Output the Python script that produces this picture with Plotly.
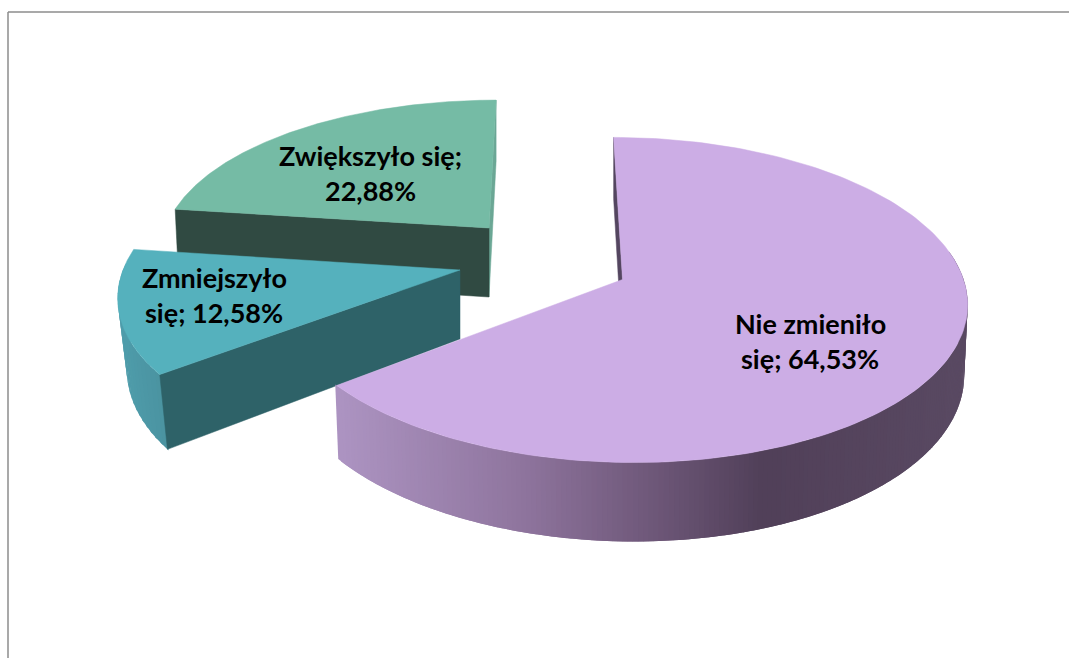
import numpy as np
import plotly.graph_objects as go

# --- data -------------------------------------------------------------
categories = ["Nie zmieniło się", "Zmniejszyło się", "Zwiększyło się"]
values = [64.53, 12.58, 22.88]
label_lines = [["Nie zmieniło", "się; 64,53%"],
               ["Zmniejszyło", "się; 12,58%"],
               ["Zwiększyło się;", "22,88%"]]

# --- style / layout ---------------------------------------------------
W, H = 1069, 658
top_colors = ["#CCADE5", "#55B1BD", "#75BBA5"]
cut_colors = ["#544660", "#2E6268", "#304A42"]
end_colors = ["#544660", "#2E6268", "#6BA795"]
# wall gradient stops by screen x
wall_stops = [
    [(337, "#AD94C2"), (520, "#8F759E"), (640, "#715A7C"), (760, "#514059"), (968, "#5A4A63")],
    [(117, "#4F9DAB"), (170, "#4A929F")],
    [(170, "#6BA795"), (175, "#6BA795")],
]
centers = [(622.5, 279.5), (460.0, 270.0), (489.0, 228.0)]
radii = [(341.0, 160.0), (337.0, 158.0), (323.0, 144.0)]
skews = [10.0, -17.0, -8.0]
converge = [0.05, 0.13, 0.05]
PERSP, DEPTH = 0.126, 69.0


def hex2rgb(h):
    return np.array([int(h[i:i + 2], 16) for i in (1, 3, 5)], float)


def grad(stops, x):
    xs = [s[0] for s in stops]
    cs = np.array([hex2rgb(s[1]) for s in stops])
    c = [np.interp(x, xs, cs[:, k]) for k in range(3)]
    return "rgb(%d,%d,%d)" % tuple(c)


def project(i, theta, rad=1.0, z=0.0):
    """theta in degrees clockwise from 12 o'clock; z = drop below the top face"""
    cx, cy = centers[i]
    R, T = radii[i]
    t = np.radians(theta)
    X, Y = rad * np.sin(t), -rad * np.cos(t)
    s = 1 / (1 - PERSP * Y)
    return cx + (R * X + skews[i] * Y - converge[i] * z * X) * s, cy + (T * Y + z) * s


fig = go.Figure()


def poly(xs, ys, color, lw=0.0):
    fig.add_trace(go.Scatter(x=list(xs), y=list(ys), mode="lines", fill="toself",
                             fillcolor=color, line=dict(color=color, width=lw),
                             hoverinfo="skip", showlegend=False))


def face(i, theta, color):
    a = project(i, theta, 0.0, 0.0)
    b = project(i, theta, 1.0, 0.0)
    c = project(i, theta, 1.0, DEPTH)
    d = project(i, theta, 0.0, DEPTH)
    poly([a[0], b[0], c[0], d[0], a[0]], [a[1], b[1], c[1], d[1], a[1]], color, 0.5)


def wall(i, t0, t1, n):
    edges = np.linspace(t0, t1, n + 1)
    for a, b in zip(edges[:-1], edges[1:]):
        ang = np.linspace(a - 0.4, b + 0.4, 4)
        xt, yt = project(i, ang, 1.0, 0.0)
        xb, yb = project(i, ang[::-1], 1.0, DEPTH)
        poly(np.r_[xt, xb, xt[0]], np.r_[yt, yb, yt[0]], grad(wall_stops[i], xt.mean()))


def top(i, t0, t1, color):
    ang = np.linspace(t0, t1, 180)
    xr, yr = project(i, ang)
    ax, ay = project(i, 0, 0.0)
    poly(np.r_[ax, xr, ax], np.r_[ay, yr, ay], color, 0.5)


# angular spans from the values (clockwise from 12 o'clock)
total = sum(values)
spans = []
start = 0.0
for v in values:
    spans.append((start, start + v / total * 360))
    start += v / total * 360

# back to front: green, blue, purple
g0, g1 = spans[2]
face(2, g1, end_colors[2])
face(2, g0, cut_colors[2])
top(2, g0, g1, top_colors[2])

b0, b1 = spans[1]
wall(1, b0, 272, 20)
face(1, b0, cut_colors[1])
top(1, b0, b1, top_colors[1])

p0, p1 = spans[0]
face(0, p0, end_colors[0])
wall(0, 80, p1, 200)
top(0, p0, p1, top_colors[0])

label_pos = [(810, 323), (214, 277), (370, 155)]
annotations = []
for lines, (lx, ly) in zip(label_lines, label_pos):
    for k, line in enumerate(lines):
        annotations.append(dict(x=lx, y=ly + 35 * k, text="<b>" + line + "</b>", showarrow=False,
                                xref="x", yref="y", xanchor="center", yanchor="middle",
                                font=dict(family="Lato", size=27, color="#000000")))

fig.update_layout(
    width=W, height=H, margin=dict(l=0, r=0, t=0, b=0),
    paper_bgcolor="white", plot_bgcolor="white", showlegend=False,
    xaxis=dict(range=[0, W], visible=False, fixedrange=True),
    yaxis=dict(range=[H, 0], visible=False, fixedrange=True),
    annotations=annotations,
    shapes=[
        dict(type="line", x0=8, x1=W, y0=12, y1=12, line=dict(color="#8C8C8C", width=1.5)),
        dict(type="line", x0=8, x1=8, y0=12, y1=H, line=dict(color="#8C8C8C", width=1.5)),
    ],
)
fig.write_html("out.html", config=dict(displayModeBar=False),
               post_script="document.body.style.margin='0';document.documentElement.style.overflow='hidden';window.dispatchEvent(new Event('resize'));")
